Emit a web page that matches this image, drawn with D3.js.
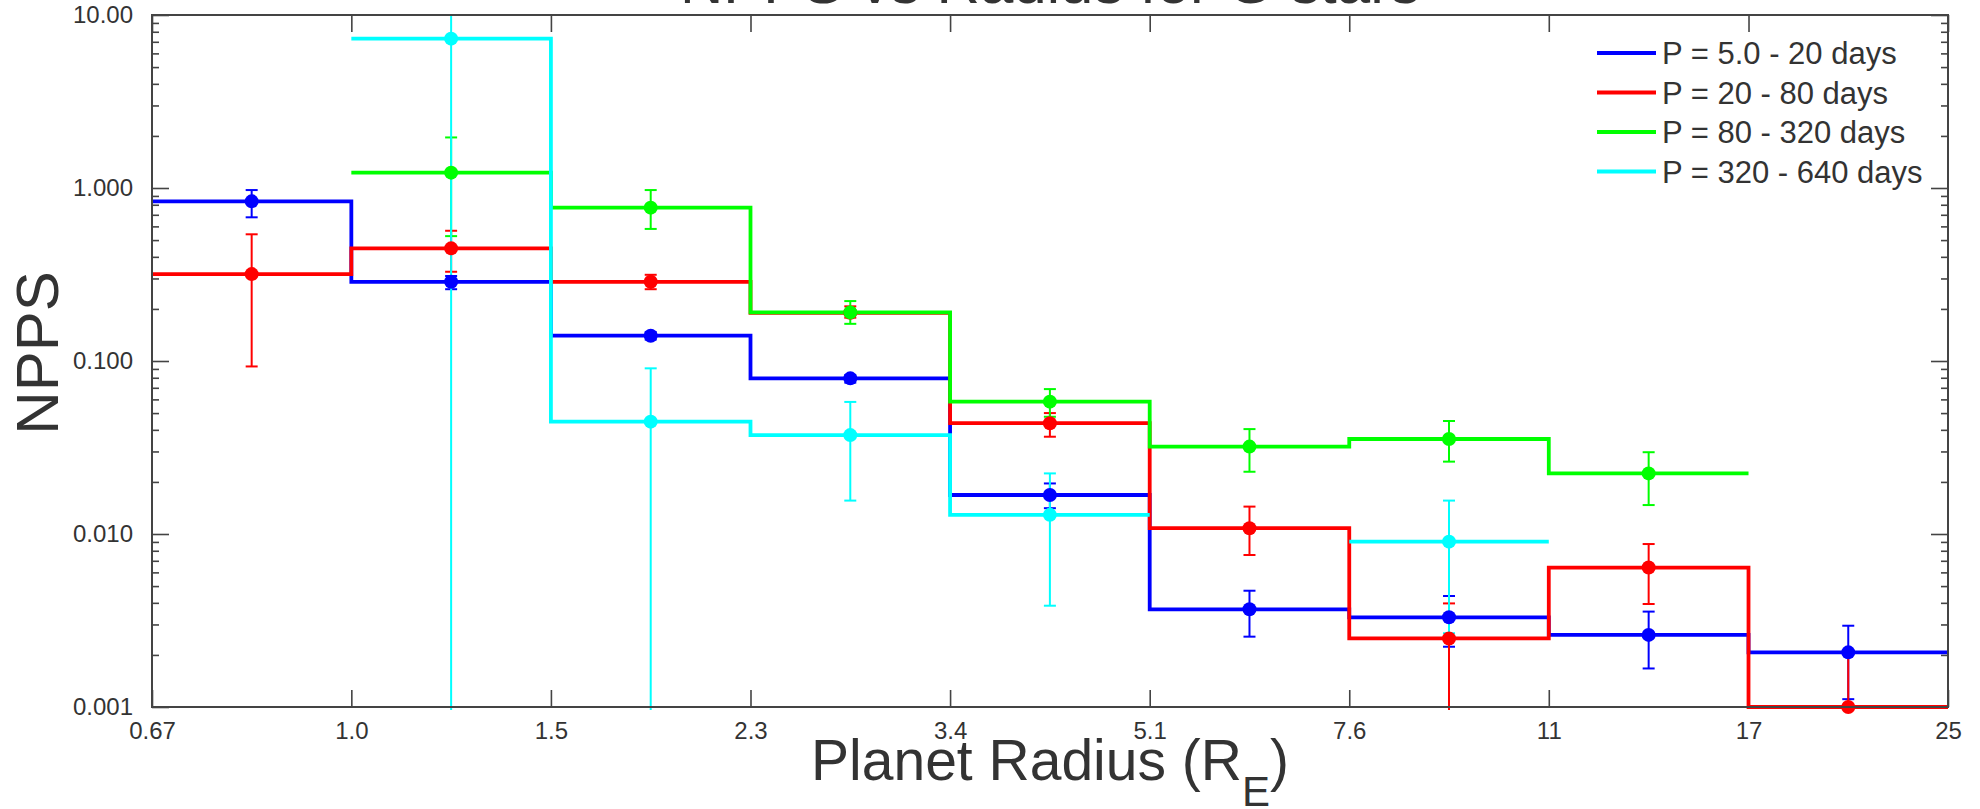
<!DOCTYPE html>
<html>
<head>
<meta charset="utf-8">
<script src="https://cdn.jsdelivr.net/npm/d3@7"></script>
<style>
  body { margin: 0; background: #fff; }
  text { font-family: "Liberation Sans", Arial, Helvetica, sans-serif; fill: #333; }
</style>
</head>
<body>
<svg id="chart"></svg>
<script>
// radius bins (Earth radii) and the labels printed at their edges
let edges = [0.667, 1.0, 1.5, 2.25, 3.375, 5.063, 7.594, 11.39, 17.09, 25.63];
let edgeLabels = ["0.67", "1.0", "1.5", "2.3", "3.4", "5.1", "7.6", "11", "17", "25"];

let yTicks = [0.001, 0.01, 0.1, 1, 10];
let yTickLabels = ["0.001", "0.010", "0.100", "1.000", "10.00"];

let periods = ["P = 5.0 - 20 days", "P = 20 - 80 days", "P = 80 - 320 days", "P = 320 - 640 days"];
let colors = ["#0000ff", "#ff0000", "#00ff00", "#00ffff"];

// NPPS per bin, with lower / upper error values (null = no bin)
let npps5   = [0.837, 0.287, 0.140, 0.0794, 0.0168, 0.00367, 0.0033, 0.00261, 0.00207];
let lo5     = [0.677, 0.26, 0.133, 0.075, 0.0141, 0.00255, 0.00223, 0.00167, 0.00111];
let hi5     = [0.973, 0.31, 0.147, 0.083, 0.0196, 0.0047, 0.00438, 0.00356, 0.00295];

let npps20  = [0.318, 0.448, 0.287, 0.19, 0.0437, 0.0108, 0.00249, 0.0064, 0.001];
let lo20    = [0.093, 0.328, 0.26, 0.178, 0.0365, 0.00756, 0.0005, 0.00394, 0.0005];
let hi20    = [0.54, 0.566, 0.315, 0.207, 0.05, 0.0144, 0.00397, 0.00875, 0.00203];

let npps80  = [null, 1.227, 0.77, 0.191, 0.0582, 0.032, 0.0354, 0.0224, null];
let lo80    = [null, 0.527, 0.58, 0.164, 0.0476, 0.0229, 0.0262, 0.0147, null];
let hi80    = [null, 1.96, 0.973, 0.222, 0.0688, 0.0404, 0.045, 0.0297, null];

let npps320 = [null, 7.3, 0.0446, 0.0373, 0.0129, null, 0.00903, null, null];
let lo320   = [null, 0.0005, 0.0005, 0.0156, 0.00385, null, 0.00267, null, null];
let hi320   = [null, 20, 0.0907, 0.058, 0.0224, null, 0.0156, null, null];

let series = [
  {vals: npps5, lo: lo5, hi: hi5},
  {vals: npps20, lo: lo20, hi: hi20},
  {vals: npps80, lo: lo80, hi: hi80},
  {vals: npps320, lo: lo320, hi: hi320}
];
series.forEach((s, i) => { s.name = periods[i]; s.color = colors[i]; });

var svgWidth = 1980, svgHeight = 809;
var padL = 152, padR = 1948, padT = 15, padB = 707;

var svg = d3.select("#chart")
            .attr("width", svgWidth)
            .attr("height", svgHeight);

var x = d3.scaleLog().domain([edges[0], edges[edges.length - 1]]).range([padL, padR]);
var y = d3.scaleLog().domain([0.001, 10]).range([padB, padT]);

var centers = edges.slice(0, -1).map((e, i) => Math.sqrt(e * edges[i + 1]));

svg.append("clipPath").attr("id", "plotclip")
   .append("rect")
   .attr("x", padL).attr("y", padT)
   .attr("width", padR - padL).attr("height", padB - padT + 3);

// minor decade ticks
var minors = [];
[0.001, 0.01, 0.1, 1].forEach(d => { for (let m = 2; m <= 9; m++) minors.push(d * m); });

var axisCol = "#444";
function styleAxis(g) {
  g.attr("font-family", null).attr("font-size", null);
  g.select(".domain").remove();
  g.selectAll(".tick line").attr("stroke", axisCol).attr("stroke-width", 1.6);
  g.selectAll(".tick text").attr("fill", "#333").style("font-size", "24px");
}

svg.append("g").attr("transform", `translate(${padL},0)`)
   .call(d3.axisLeft(y).tickValues(yTicks).tickSizeInner(-17).tickSizeOuter(0)
         .tickPadding(19).tickFormat((d, i) => yTickLabels[i]))
   .call(styleAxis);
svg.append("g").attr("transform", `translate(${padL},0)`)
   .call(d3.axisLeft(y).tickValues(minors).tickSizeInner(-7).tickSizeOuter(0).tickFormat(""))
   .call(styleAxis);
svg.append("g").attr("transform", `translate(${padR},0)`)
   .call(d3.axisRight(y).tickValues(yTicks).tickSizeInner(-17).tickSizeOuter(0).tickFormat(""))
   .call(styleAxis);
svg.append("g").attr("transform", `translate(${padR},0)`)
   .call(d3.axisRight(y).tickValues(minors).tickSizeInner(-7).tickSizeOuter(0).tickFormat(""))
   .call(styleAxis);
svg.append("g").attr("transform", `translate(0,${padB})`)
   .call(d3.axisBottom(x).tickValues(edges).tickSizeInner(-17).tickSizeOuter(0)
         .tickPadding(15).tickFormat((d, i) => edgeLabels[i]))
   .call(styleAxis);
svg.append("g").attr("transform", `translate(0,${padT})`)
   .call(d3.axisTop(x).tickValues(edges).tickSizeInner(-17).tickSizeOuter(0).tickFormat(""))
   .call(styleAxis);

// step histograms
var line = d3.line().x(d => x(d[0])).y(d => y(d[1]));
function stepRuns(vals) {
  let runs = [], cur = [];
  vals.forEach((v, i) => {
    if (v == null) { if (cur.length) runs.push(cur); cur = []; return; }
    cur.push([edges[i], v], [edges[i + 1], v]);
  });
  if (cur.length) runs.push(cur);
  return runs;
}

var plot = svg.append("g").attr("clip-path", "url(#plotclip)");

series.forEach(s => {
  plot.selectAll(null)
      .data(stepRuns(s.vals))
      .enter()
      .append("path")
      .attr("d", line)
      .attr("fill", "none")
      .attr("stroke", s.color)
      .attr("stroke-width", 3.8);
});

// error bars
series.forEach(s => {
  let pts = s.vals.map((v, i) => ({c: centers[i], v: v, lo: s.lo[i], hi: s.hi[i]}))
                  .filter(p => p.v != null);
  let g = plot.append("g").attr("stroke", s.color).attr("stroke-width", 2);
  g.selectAll(null).data(pts).enter().append("line")
   .attr("x1", p => x(p.c)).attr("x2", p => x(p.c))
   .attr("y1", p => y(p.hi)).attr("y2", p => y(p.lo));
  g.selectAll(null).data(pts).enter().append("line")
   .attr("x1", p => x(p.c) - 6).attr("x2", p => x(p.c) + 6)
   .attr("y1", p => y(p.hi)).attr("y2", p => y(p.hi));
  g.selectAll(null).data(pts).enter().append("line")
   .attr("x1", p => x(p.c) - 6).attr("x2", p => x(p.c) + 6)
   .attr("y1", p => y(p.lo)).attr("y2", p => y(p.lo));
});

// markers
series.forEach(s => {
  svg.selectAll(null)
     .data(s.vals.map((v, i) => [centers[i], v]).filter(d => d[1] != null))
     .enter()
     .append("circle")
     .attr("cx", d => x(d[0]))
     .attr("cy", d => y(d[1]))
     .attr("r", 7)
     .attr("fill", s.color);
});

// frame
svg.append("rect")
   .attr("x", padL).attr("y", padT)
   .attr("width", padR - padL).attr("height", padB - padT)
   .attr("fill", "none").attr("stroke", axisCol).attr("stroke-width", 2);

// legend
var legend = svg.append("g");
series.forEach((s, i) => {
  let ly = 53 + i * 39.5;
  legend.append("line")
        .attr("x1", 1597).attr("x2", 1656)
        .attr("y1", ly).attr("y2", ly)
        .attr("stroke", s.color).attr("stroke-width", 4);
  legend.append("text")
        .attr("x", 1662).attr("y", ly + 11)
        .style("font-size", "31px")
        .text(s.name);
});

// titles
svg.append("text")
   .attr("x", (padL + padR) / 2).attr("y", 3)
   .attr("text-anchor", "middle")
   .style("font-size", "60px")
   .text("NPPS vs Radius for G stars");

svg.append("text")
   .attr("transform", "translate(58,353) rotate(-90)")
   .attr("text-anchor", "middle")
   .style("font-size", "60px")
   .text("NPPS");

var xt = svg.append("text")
   .attr("x", (padL + padR) / 2).attr("y", 780)
   .attr("text-anchor", "middle")
   .style("font-size", "57px");
xt.append("tspan").text("Planet Radius (R");
xt.append("tspan").attr("dy", 26).style("font-size", "42px").text("E");
xt.append("tspan").attr("dy", -26).text(")");
</script>
</body>
</html>
